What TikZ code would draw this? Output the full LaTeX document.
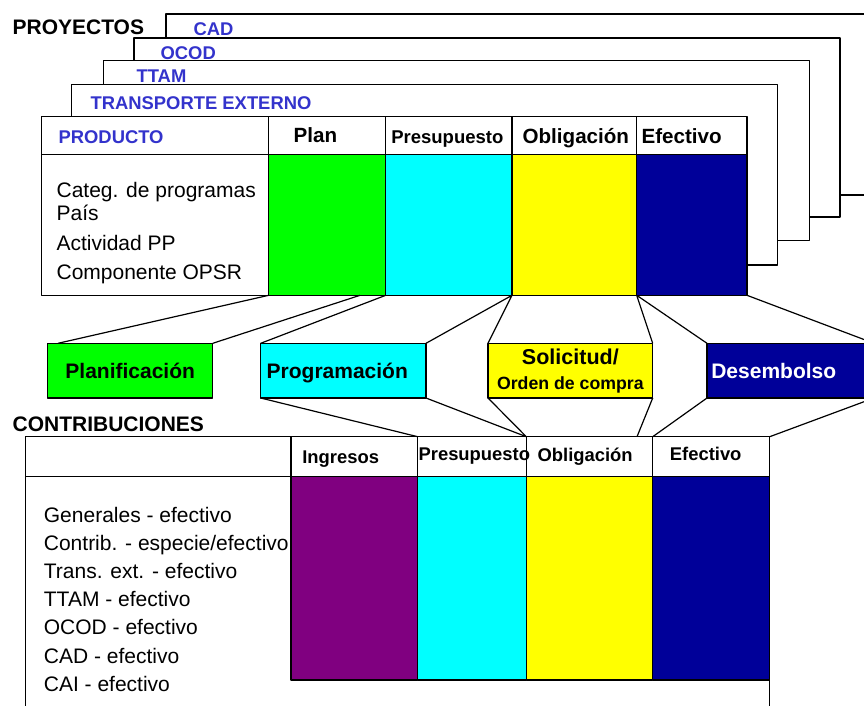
\documentclass[tikz,border=0pt]{standalone}
\usepackage{fontspec}
\setmainfont{Liberation Sans}
\definecolor{verde}{RGB}{0,255,0}
\definecolor{celeste}{RGB}{0,255,255}
\definecolor{amarillo}{RGB}{255,255,0}
\definecolor{azul}{RGB}{0,0,153}
\definecolor{morado}{RGB}{128,0,128}
\definecolor{azultxt}{RGB}{51,51,204}
\tikzset{
    celda/.style={draw,anchor=north west,inner sep=0pt,outer sep=0pt},
    caja/.style={celda,minimum height=54.7,font=\fontsize{21}{25}\selectfont\bfseries},
    una/.style={text height=15,text depth=0},
    titulo/.style={anchor=base west,inner sep=0pt,font=\fontsize{21}{25}\selectfont\bfseries},
    proy/.style={anchor=base west,inner sep=0pt,text=azultxt,font=\fontsize{18.4}{22}\selectfont\bfseries},
    encab/.style={anchor=base west,inner sep=0pt,font=\fontsize{20.6}{25}\selectfont\bfseries},
    encabb/.style={anchor=base west,inner sep=0pt,font=\fontsize{18.4}{22}\selectfont\bfseries},
    fila/.style={anchor=base west,inner sep=0pt,font=\fontsize{21}{25}\selectfont}
}
\begin{document}
\begin{tikzpicture}[x=1pt,y=-1pt,line join=round,line width=1.2pt]
            \clip (0,0) rectangle (864,705);
            % proyectos
            \node[titulo] (proyectos) at (12,34) {PROYECTOS};
            \foreach \nom/\x/\y/\r/\b/\tx/\ty/\txt in {
                cad/166/14/900/195/193/35/CAD,
                ocod/134/38/840/217/160/59/OCOD,
                ttam/103.7/60.7/809.7/240.7/136/82/TTAM,
                te/71.7/84.3/777.7/265/90/109/TRANSPORTE EXTERNO}{
                \node[celda,fill=white,minimum width=\r-\x,minimum height=\b-\y] (\nom) at (\x,\y) {};
                \node[proy] (t-\nom) at (\tx,\ty) {\txt};
            }
            \node[celda,fill=white,minimum width=705.7,minimum height=179] (producto) at (41.3,116.3) {};
            \foreach \nom/\x/\w/\col in {plan/268.7/117/verde, pres/385.7/126.3/celeste,
                oblig/512/124.7/amarillo, efec/636.7/110.3/azul}{
                \node[celda,fill=\col,minimum width=\w,minimum height=141] (\nom) at (\x,154.3) {};
                \draw (\nom.north west) -- ++(0,-38);
            }
            \draw ([yshift=-38]producto.north west) -- (plan.north west);
            \node[proy] (t-producto) at (58,143) {PRODUCTO};
            \node[encab] (h-plan) at (293,142.7) {Plan};
            \node[encabb,font=\fontsize{18.5}{22}\selectfont\bfseries] (h-pres) at (390.7,143) {Presupuesto};
            \node[encab] (h-oblig) at (522,143.5) {Obligación};
            \node[encab] (h-efec) at (641,143.5) {Efectivo};
            \node[fila] (p1) at (56,197) {Categ. de programas};
            \node[fila] (p2) at (56,220.5) {País};
            \node[fila] (p3) at (56,250) {Actividad PP};
            \node[fila] (p4) at (56,279) {Componente OPSR};
            % etapas
            \node[caja,una,fill=verde,minimum width=165] (planif) at (47.7,343.3) {Planificación};
            \node[caja,una,fill=celeste,text width=153.3,inner xsep=6,align=left] (progr) at (260.7,343.3) {Programación};
            \node[caja,fill=amarillo,minimum width=164.7,align=center] (solic) at (488,343.3)
                {\fontsize{21.5}{22}\selectfont Solicitud/\\\fontsize{17.7}{22}\selectfont Orden de compra};
            \node[caja,una,fill=azul,text=white,text width=158.4,inner xsep=4.3,align=left] (desemb) at (707,343.3) {Desembolso};
            \draw
            (plan.south west)--([xshift=10.3]planif.north west)
            ([xshift=91.3]plan.south west)--(planif.north east)
            (pres.south west)--(progr.north west)
            (oblig.south west)--(progr.north east)
            (oblig.south west)--(solic.north west)
            (efec.south west)--(solic.north east)
            (efec.south west)--(desemb.north west)
            (efec.south east)--(desemb.north east)
            ;
            % contribuciones
            \node[titulo] (contribuciones) at (12,431.7) {CONTRIBUCIONES};
            \node[celda,fill=white,minimum width=744,minimum height=300] (contrib) at (25.7,436.7) {};
            \foreach \nom/\x/\w/\col in {ing/291/126.7/morado, pres2/417.7/108.6/celeste,
                obl2/526.3/126.4/amarillo, efe2/652.7/117/azul}{
                \node[celda,minimum width=\w,minimum height=40] (c-\nom) at (\x,436.7) {};
                \node[celda,fill=\col,minimum width=\w,minimum height=203.3] (\nom) at (\x,476.7) {};
            }
            \draw ([yshift=-40]contrib.north west) -- (ing.north west);
            \node[encabb] (h-ing) at (301.7,463.3) {Ingresos};
            \node[encabb] (h-pres2) at (418,460.5) {Presupuesto};
            \node[encabb] (h-obl2) at (537,461.5) {Obligación};
            \node[encabb] (h-efe2) at (669.3,460.7) {Efectivo};
            \foreach \t [count=\i] in {Generales - efectivo, Contrib. - especie/efectivo,
                Trans. ext. - efectivo, TTAM - efectivo, OCOD - efectivo, CAD - efectivo, CAI - efectivo}
                \node[fila] (f\i) at (43.3,{522.5+28.1*(\i-1)}) {\t};
            \draw
            (progr.south west)--(c-pres2.north west)
            (progr.south east)--(c-obl2.north west)
            (solic.south west)--(c-obl2.north west)
            (solic.south east)--([xshift=110.7]c-obl2.north west)
            (desemb.south west)--(c-efe2.north west)
            (desemb.south east)--(c-efe2.north east)
            ;
\end{tikzpicture}
\end{document}
